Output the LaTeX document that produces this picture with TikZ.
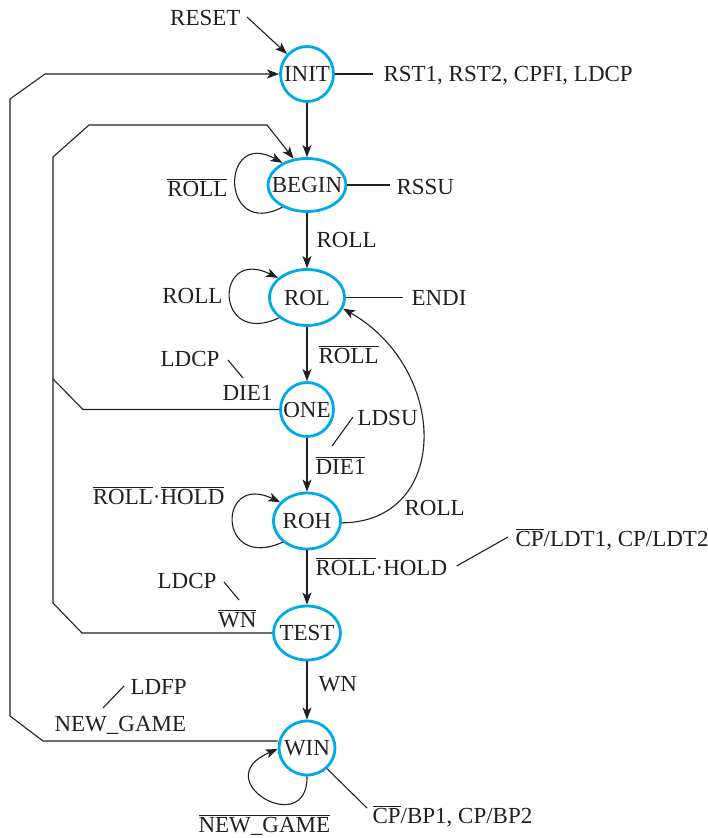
\documentclass[tikz,border=0pt]{standalone}
\usepackage{fontspec}
\setmainfont{Liberation Serif}
\usetikzlibrary{shapes.geometric,arrows.meta}
\definecolor{stateblue}{RGB}{0,170,232}
\definecolor{ink}{RGB}{35,31,32}
\newcommand{\ob}[1]{$\overline{\mbox{#1}}$}
\begin{document}
\begin{tikzpicture}[x=1pt,y=-1pt,
  every node/.style={font=\fontsize{23}{27}\selectfont, text=ink},
  st/.style={ellipse, draw=stateblue, line width=2.8pt, inner sep=0pt},
  lab/.style={inner sep=0pt},
  arr/.style={-{Stealth[length=12pt,width=9pt,inset=3pt]}},
  line width=1.1pt, draw=ink]
\useasboundingbox (0,0) rectangle (707,838);

% states
\node[st, minimum width=53pt, minimum height=55pt] (INIT)  at (307,74)    {\makebox[0pt]{INIT}};
\node[st, minimum width=78pt, minimum height=53pt] (BEGIN) at (307,185)   {\makebox[0pt]{BEGIN}};
\node[st, minimum width=75pt, minimum height=56pt] (ROL)   at (307,297.5) {\makebox[0pt]{ROL}};
\node[st, minimum width=53pt, minimum height=54pt] (ONE)   at (307,409.5) {\makebox[0pt]{ONE}};
\node[st, minimum width=67pt, minimum height=56pt] (ROH)   at (307,521)   {\makebox[0pt]{ROH}};
\node[st, minimum width=67pt, minimum height=54pt] (TEST)  at (307,633)   {\makebox[0pt]{TEST}};
\node[st, minimum width=56pt, minimum height=54pt] (WIN)   at (307,748)   {\makebox[0pt]{WIN}};

% labels
\node[lab, anchor=base east] (reset) at (241,25)  {RESET};
\node[lab, anchor=base west] (rst)   at (383,81.5) {RST1, RST2, CPFI, LDCP};
\node[lab, anchor=base east] (nrollA) at (228,196) {\ob{ROLL}};
\node[lab, anchor=base west] (rssu)  at (396,194) {RSSU};
\node[lab, anchor=base west] (rollA) at (316,247) {ROLL};
\node[lab, anchor=base east] (rollB) at (223,303) {ROLL};
\node[lab, anchor=base west] (endi)  at (411,305) {ENDI};
\node[lab, anchor=base west] (nrollB) at (318,363) {\ob{ROLL}};
\node[lab, anchor=base east] (ldcpA) at (220,366) {LDCP};
\node[lab, anchor=base west] (dieA)  at (222,400) {DIE1};
\node[lab, anchor=base west] (ldsu)  at (357,425) {LDSU};
\node[lab, anchor=base west] (dieB)  at (315,474) {\ob{DIE1}};
\node[lab, anchor=base east] (rhA)   at (225,504) {\ob{ROLL}·\ob{HOLD}};
\node[lab, anchor=base west] (rollC) at (404,515) {ROLL};
\node[lab, anchor=base west] (rhB)   at (315,575) {\ob{ROLL}·HOLD};
\node[lab, anchor=base west] (ldt)   at (515,546) {\ob{CP}/LDT1, CP/LDT2};
\node[lab, anchor=base east] (ldcpB) at (217,588) {LDCP};
\node[lab, anchor=base east] (wnA)   at (257,627) {\ob{WN}};
\node[lab, anchor=base west] (wnB)   at (318,691) {WN};
\node[lab, anchor=base west] (ldfp)  at (130,694) {LDFP};
\node[lab, anchor=base west] (newg)  at (54,731)  {NEW\_GAME};
\node[lab, anchor=base west] (nnewg) at (198,832) {\ob{NEW\_GAME}};
\node[lab, anchor=base west] (cpbp)  at (372,823) {\ob{CP}/BP1, CP/BP2};

% corner points of the long return lines
\coordinate (oA) at (43,741);
\coordinate (oB) at (10,716);
\coordinate (oC) at (10,99);
\coordinate (oD) at (45,74);
\coordinate (iA) at (83,409.5);
\coordinate (iB) at (53,379);
\coordinate (iC) at (82,633);
\coordinate (iD) at (53,603);
\coordinate (iE) at (53,157);
\coordinate (iF) at (89,125);
\coordinate (iG) at (267,125);

% main transitions
\draw[arr] ([xshift=6pt,yshift=8pt]reset.base east) -- (INIT.135);
\draw[arr] (INIT.south) -- (BEGIN.north);
\draw[arr] (BEGIN.south) -- (ROL.north);
\draw[arr] (ROL.south) -- (ONE.north);
\draw[arr] (ONE.south) -- (ROH.north);
\draw[arr] (ROH.south) -- (TEST.north);
\draw[arr] (TEST.south) -- (WIN.north);

% return lines
\draw[arr] (WIN.west |- oA) -- (oA) -- (oB) -- (oC) -- (oD) -- (INIT.west);
\draw (ONE.west) -- (iA) -- (iB);
\draw[arr] (TEST.west) -- (iC) -- (iD) -- (iE) -- (iF) -- (iG) -- (BEGIN.117);

% ROH -> ROL
\draw[arr] (ROH.-3) .. controls (450,522) and (450,370) .. (ROL.-17);

% self loops
\draw[arr] (BEGIN.222) .. controls (220,240) and (220,128) .. (BEGIN.138);
\draw[arr] (ROL.216) .. controls (214,348) and (214,246) .. (ROL.146);
\draw[arr] (ROH.221) .. controls (217,572) and (217,472) .. (ROH.145);
\draw[arr] (WIN.south) .. controls (308,840) and (205,780) .. (WIN.182);

% output lines
\draw (INIT.east) -- ([xshift=-10pt]rst.base west |- INIT.east);
\draw (BEGIN.east) -- ([xshift=-6pt]rssu.base west |- BEGIN.east);
\draw (ROL.east) -- ([xshift=-8pt]endi.base west |- ROL.east);
\draw ([xshift=8pt,yshift=6pt]ldcpA.base east) -- ([xshift=21pt,yshift=22pt]dieA.base west);
\draw ([xshift=17pt,yshift=28pt]dieB.base west) -- ([xshift=-4pt,yshift=8pt]ldsu.base west);
\draw ([xshift=9pt,yshift=9pt]rhB.base east) -- ([xshift=-7pt,yshift=9pt]ldt.base west);
\draw ([xshift=7pt,yshift=6pt]ldcpB.base east) -- ([xshift=-18pt,yshift=27pt]wnA.base east);
\draw ([xshift=-6pt,yshift=8pt]ldfp.base west) -- ([xshift=49pt,yshift=23pt]newg.base west);
\draw (WIN.-46) -- ([xshift=-5pt,yshift=15pt]cpbp.base west);
\end{tikzpicture}
\end{document}
